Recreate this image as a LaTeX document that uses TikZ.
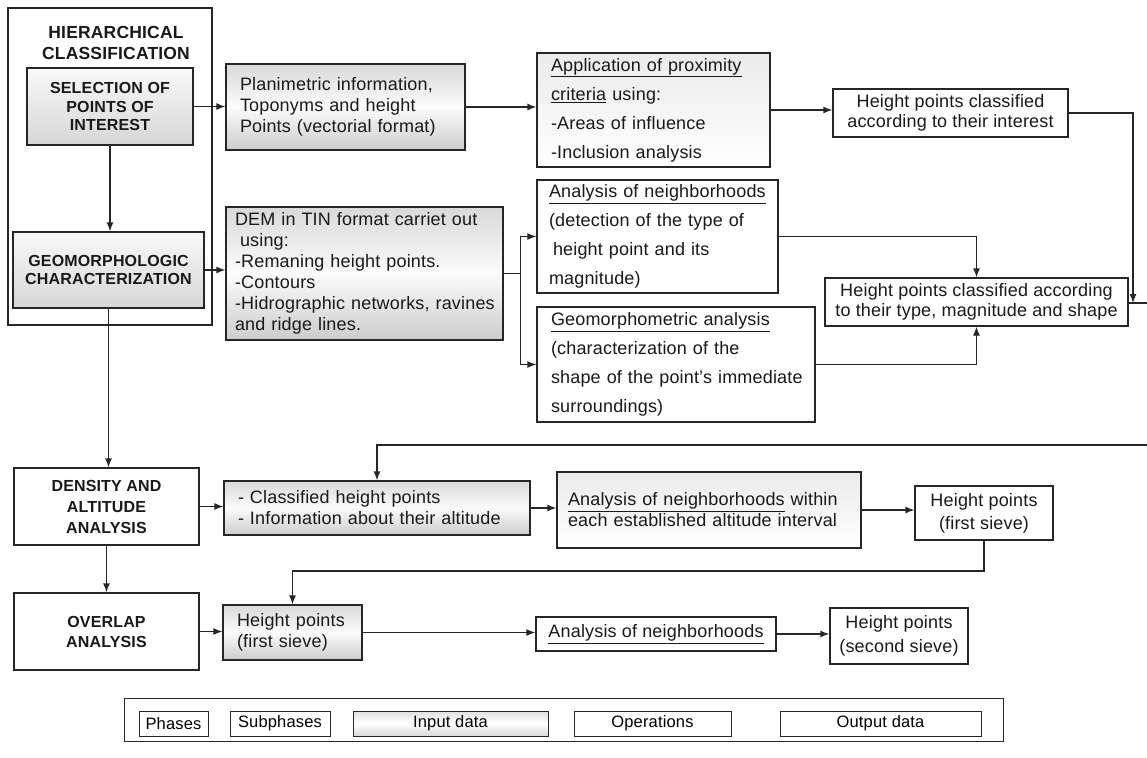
\documentclass[tikz,border=0pt]{standalone}
\usepackage{fontspec}
\setmainfont[LetterSpace=1]{Liberation Sans}
\usetikzlibrary{arrows.meta}
\begin{document}
\begin{tikzpicture}[x=1pt,y=-1pt,
  bx/.style={draw=black!85, line width=1.3pt, rectangle, inner sep=0pt, text=black!90},
  phasebox/.style={bx, fill=white, font=\fontsize{16}{21}\selectfont\bfseries, align=center},
  titletext/.style={inner sep=0pt, text=black!90, font=\fontsize{17.5}{21}\selectfont\bfseries, align=center},
  subbox/.style={bx, top color=gray!5, bottom color=gray!32, font=\fontsize{16}{18.5}\selectfont\bfseries, align=center},
  inbox/.style={bx, top color=gray!30, bottom color=gray!40, middle color=gray!3, font=\fontsize{18}{21}\selectfont, align=left},
  opbox/.style={bx, fill=white, font=\fontsize{18}{29}\selectfont, align=left},
  opshade/.style={opbox, top color=gray!16, bottom color=white},
  outbox/.style={bx, fill=white, font=\fontsize{18}{19.5}\selectfont, align=center},
  legbox/.style={draw=black!85, line width=1pt, rectangle, inner sep=0pt, fill=white, font=\fontsize{16.5}{18}\selectfont, minimum height=25},
  conn/.style={line width=1.3pt, draw=black!85},
  arr/.style={conn, -{Latex[length=9pt,width=7pt]}}
]
\fill[white] (0,0) rectangle (1147,757);
\useasboundingbox (0,0) rectangle (1147,757);

% ---- hierarchical classification
\node[phasebox, minimum width=204, minimum height=317] (hier) at (110,166.5) {};
\node[titletext] (hiert) at (116,42.5) {HIERARCHICAL\\CLASSIFICATION};
\node[subbox, minimum width=166, minimum height=77] (sel) at (110,106.5) {SELECTION OF\\POINTS OF\\INTEREST};
\node[subbox, minimum width=191, minimum height=76] (geo) at (108.5,270) {GEOMORPHOLOGIC\\CHARACTERIZATION};

\node[inbox, minimum width=239, minimum height=86, text width=211] (plan) at (345.5,107)
  {Planimetric information,\\Toponyms and height\\Points (vectorial format)};
\node[inbox, minimum width=277, minimum height=133, text width=259] (dem) at (364.5,273.5)
  {DEM in TIN format carriet out\\\hspace*{5pt}using:\\-Remaning height points.\\-Contours\\\mbox{-Hidrographic networks, ravines}\\and ridge lines.};

\node[opshade, minimum width=233, minimum height=114, text width=205] (app) at (653.5,110)
  {\mbox{\underline{Application of proximity}}\\\underline{criteria} using:\\-Areas of influence\\-Inclusion analysis};
\node[outbox, minimum width=235, minimum height=48] (inter) at (950.5,113)
  {Height points classified\\according to their interest};

\node[opbox, minimum width=241, minimum height=113, text width=217] (det) at (657.5,236.5)
  {\mbox{\underline{Analysis of neighborhoods}}\\(detection of the type of\\\hspace*{4pt}height point and its\\magnitude)};
\node[opbox, minimum width=278, minimum height=115, text width=250] (gm) at (676,364.5)
  {\underline{Geomorphometric analysis}\\(characterization of the\\\mbox{shape of the point's immediate}\\surroundings)};
\node[outbox, minimum width=303, minimum height=48] (type) at (976.5,302)
  {\mbox{Height points classified according}\\\mbox{to their type, magnitude and shape}};

% ---- lower phases
\node[phasebox, minimum width=185, minimum height=77] (dens) at (106.5,506.5) {DENSITY AND\\ALTITUDE\\ANALYSIS};
\node[phasebox, font=\fontsize{16}{20}\selectfont\bfseries, minimum width=185, minimum height=77] (ovl) at (106.5,631.5) {OVERLAP\\ANALYSIS};

\node[inbox, minimum width=306, minimum height=54, text width=278] (cls) at (377,508)
  {- Classified height points\\\mbox{- Information about their altitude}};
\node[opshade, font=\fontsize{18}{21}\selectfont, minimum width=304, minimum height=76, text width=282] (within) at (709,510)
  {\mbox{\underline{Analysis of neighborhoods} within}\\\mbox{each established altitude interval}};
\node[outbox, font=\fontsize{18}{23}\selectfont, minimum width=138, minimum height=54] (fs1) at (984,513)
  {Height points\\(first sieve)};

\node[inbox, minimum width=139, minimum height=55, text width=111] (fsin) at (292.5,632.5)
  {Height points\\(first sieve)};
\node[opbox, minimum width=240, minimum height=34] (an2) at (656,634) {\underline{Analysis of neighborhoods}};
\node[outbox, font=\fontsize{18}{24}\selectfont, minimum width=138, minimum height=56] (fs2) at (899,636)
  {Height points\\(second sieve)};

% ---- legend
\node[bx, line width=1pt, fill=white, minimum width=879, minimum height=43] (leg) at (563.5,719.5) {};
\node[legbox, minimum width=69] (lph) at (173.5,723.5) {Phases};
\node[legbox, minimum width=100] (lsub) at (280,723.5) {Subphases};
\node[legbox, top color=gray!25, bottom color=gray!30, middle color=white, minimum width=195] (lin) at (450.5,723.5) {Input data};
\node[legbox, minimum width=157] (lop) at (652.5,723.5) {Operations};
\node[legbox, minimum width=201] (lout) at (880.5,723.5) {Output data};

% ---- free ends
\coordinate (rj) at (1133,303);
\coordinate (rout) at (1147,303);
\coordinate (fbr) at (1147,445);
\coordinate (fbl) at (600,571);

% ---- connectors
\draw[arr] (sel.east) -- (sel.east -| plan.west);
\draw[arr] (sel.south) -- (sel.south |- geo.north);
\draw[arr] (geo.east) -- (geo.east -| dem.west);
\draw[arr] (geo.south) -- (geo.south |- dens.north);
\draw[arr] (plan.east) -- (plan.east -| app.west);
\draw[arr] (app.east) -- (app.east -| inter.west);
\draw[arr] (inter.east) -| (rj);
\draw[conn] (type.east |- rout) -- (rout);
\draw[arr] (dem.east) -- ++(16.5,0) |- (det.west);
\draw[arr] (dem.east) -- ++(16.5,0) |- (gm.west);
\draw[arr] (det.east) -| (type.north);
\draw[arr] (gm.east) -| (type.south);
\draw[arr] (fbr) -| (cls.north);
\draw[arr] (dens.east) -- (dens.east -| cls.west);
\draw[arr] (dens.south) -- (ovl.north);
\draw[arr] (cls.east) -- (cls.east -| within.west);
\draw[arr] (within.east) -- (within.east -| fs1.west);
\draw[arr] (fs1.south) -- (fs1.south |- fbl) -| (fsin.north);
\draw[arr] (ovl.east) -- (ovl.east -| fsin.west);
\draw[arr] (fsin.east) -- (fsin.east -| an2.west);
\draw[arr] (an2.east) -- (an2.east -| fs2.west);
\end{tikzpicture}
\end{document}
